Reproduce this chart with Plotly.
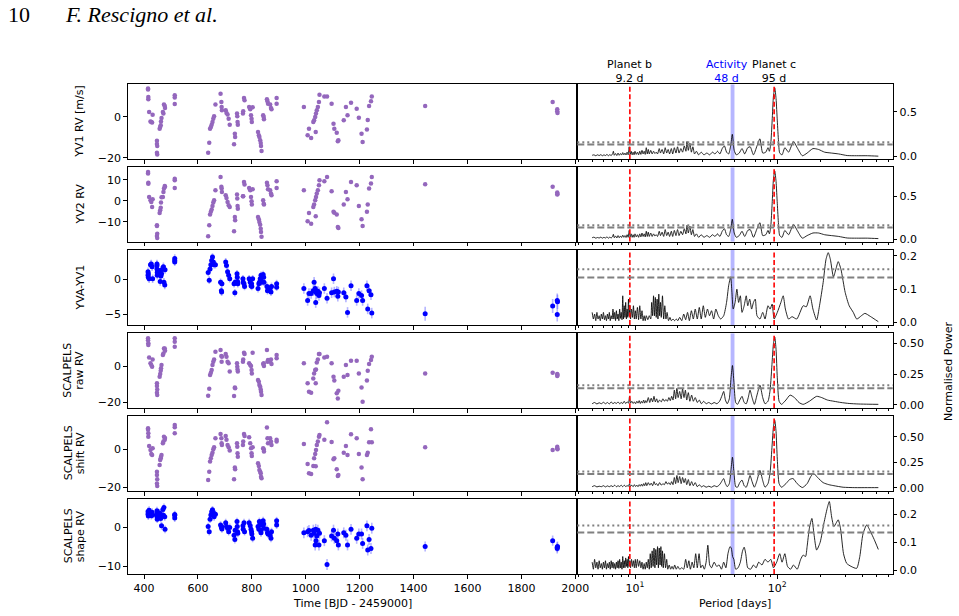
import math
import plotly.graph_objects as go

# ---------------- data ----------------
T = [415, 415, 416, 416, 419, 424, 427, 430, 432, 448, 448, 449, 448, 449, 458, 460, 462, 463, 465, 470, 472, 474, 477, 478, 514, 514, 514,
     638, 642, 645, 648, 651, 654, 657, 660, 665, 684, 687, 688, 689, 703, 706, 710, 714, 718, 734, 737, 738, 745, 746, 747, 748,
     767, 768, 771, 773, 790, 794, 797, 799, 800, 803, 823, 826, 828, 831, 833, 834, 836, 842, 844, 845, 856, 858, 860, 868, 871, 873, 892, 892,
     993, 1007, 1012, 1020, 1028, 1031, 1035, 1038, 1041, 1045, 1049, 1037, 1051, 1069, 1079, 1096, 1103, 1106, 1115, 1119, 1121,
     1141, 1149, 1155, 1168, 1189, 1197, 1207, 1211, 1227, 1230, 1235, 1242, 1245,
     1443, 1916, 1933, 1933, 1934]

Y_YV1 = [13.7, 13.3, 9.6, 8.5, 2.3, -2.3, -2.6, -2.9, 1.0, -11.7, -13.3, -14.3, -17.6, -18.5, -5.9, -5.0, -4.2, -2.3, -0.7, 2.3, 1.5, 5.9, 5.2, 4.2, 10.4, 9.3, 6.2,
         -17.6, -12.7, -5.9, -5.0, -3.9, -2.6, -1.0, 0.2, 5.9, 11.2, 7.2, 4.7, 3.1, 3.1, 1.8, 1.1, -1.0, -3.9, -13.5, -8.3, -9.9, 1.5, 0.2, -2.6, -3.9,
         1.5, 2.6, 9.1, 8.0, 4.7, 3.6, 0.7, -1.0, -2.6, 4.6, -7.5, -9.1, -9.9, -11.5, -12.8, -14.3, -16.7, 0.7, -0.2, -1.3, 8.5, 7.5, 6.3, 5.9, 4.2, 3.6, 9.1, 6.3,
         4.7, -9.1, -5.9, -10.4, -2.6, -1.8, -0.2, 1.5, 3.1, 4.7, 7.2, -7.5, 10.7, 9.8, 9.8, 6.3, -3.4, -5.9, -7.8, -12.0, -11.5,
         -1.8, 4.7, 0.7, 6.8, 3.9, -0.5, -8.3, -12.4, -6.2, -1.6, 5.2, 7.5, 9.9,
         5.2, 7.2, 3.6, 2.6, 1.8]

Y_YV2 = [13.8, 13.0, 8.6, 8.2, 1.9, 0.3, -0.5, -2.9, 0.8, -11.6, -11.9, -15.6, -16.7, -17.6, -5.7, -4.4, -3.3, -0.8, 1.7, 1.9, 4.3, 5.9, 7.1, 6.7, 10.6, 9.8, 6.2,
         -16.8, -11.6, -6.5, -5.2, -4.1, -2.4, -0.8, 0.3, 5.1, 11.4, 6.7, 5.9, 4.3, 2.7, 1.4, -0.5, -2.1, -2.9, -14.4, -7.6, -9.2, 3.0, 1.1, -2.4, -3.7,
         2.2, 2.2, 9.0, 7.8, 6.2, 5.1, 1.9, -0.2, -1.7, 5.6, -7.6, -8.7, -10.0, -11.3, -13.2, -14.8, -17.1, 0.3, -1.3, -1.7, 8.7, 7.5, 5.6, 5.1, 3.5, 2.7, 9.4, 6.2,
         5.1, -9.7, -5.7, -10.8, -2.9, -1.7, 0.3, 1.9, 3.5, 5.1, 7.5, -7.3, 9.8, 9.4, 11.4, 4.6, -5.2, -5.6, -6.5, -12.4, -12.9,
         -1.7, 4.3, 0.8, 9.0, 7.5, -2.4, -8.7, -11.9, -5.2, -1.7, 5.9, 8.3, 11.4,
         7.9, 6.7, 4.0, 3.0, 3.3]

Y_YVA = [1.1, 0.6, 0.8, 0.3, 0.1, 2.1, 2.2, 1.8, 0.1, 2.2, 1.5, 1.0, 2.0, 0.6, 0.7, -0.3, 1.3, 0.5, 0.8, 1.5, 1.8, -0.4, -0.8, 1.4, 3.0, 2.5, 2.7,
         1.0, -0.1, 1.5, 2.1, 2.7, 3.2, 2.5, 2.1, 2.1, -0.4, -1.6, -1.8, -0.6, 2.5, 2.0, 1.1, 0.6, 0.1, -0.6, -1.9, -0.4, 0.8, 0.3, -0.3, -0.6,
         0.1, -0.4, -0.6, -1.0, 0.1, -0.4, -0.9, -0.6, -1.0, 0.1, -1.3, -0.6, -0.4, 0.1, -0.1, 0.6, -0.4, 0.7, 0.3, -0.4, -1.0, -1.6, -1.2, -1.3, -1.8, -1.0, -0.6, -1.1,
         -1.3, -3.0, -2.0, -2.0, -1.6, -0.4, -1.3, -1.8, -2.0, -1.7, -2.3, -3.3, -1.9, -1.3, -2.7, -1.9, 0.1, -1.8, -1.7, -2.4, -1.8,
         -1.9, -2.5, -4.7, -0.9, -3.0, -2.0, -2.3, -3.0, -0.9, -4.2, -1.6, -2.2, -4.8,
         -4.9, -3.8, -3.0, -5.0, -3.2]
E_YVA = [0.6] * 27 + [0.55] * 53 + [0.75] * 34 + [1.0] * 5

Y_RAW = [15.4, 14.4, 12.6, 11.7, 4.8, 1.5, 0.6, -0.4, 3.7, -9.6, -11.1, -13.0, -14.8, -16.1, -5.9, -4.4, -2.6, -1.3, 0.6, 6.1, 7.0, 9.8, 9.8, 8.5, 15.4, 13.5, 10.7,
         -16.5, -12.6, -5.0, -3.7, -2.2, 0.6, 2.4, 3.7, 8.0, 8.9, 5.6, 2.4, 5.2, 6.7, 5.2, 2.4, 1.5, -3.1, -16.7, -11.9, -12.4, 1.5, -0.4, -1.9, -3.1,
         2.4, 3.7, 7.4, 6.7, 1.5, 0.6, 0.0, -2.2, -4.1, 7.4, -7.8, -8.7, -10.6, -11.5, -13.0, -14.3, -16.1, 1.1, 1.5, 0.0, 8.9, 2.4, 3.3, 2.4, 3.7, 1.1, 6.1, 4.3,
         1.5, -9.6, -14.3, -14.8, -6.9, -4.1, -2.2, -1.9, 1.9, 3.7, 6.7, -9.6, 6.7, 4.8, 5.2, 1.5, -5.9, -8.1, -15.2, -18.0, -13.7,
         -5.9, 0.6, -5.0, 3.0, 3.0, -4.1, -11.9, -19.8, -8.1, -2.6, 1.1, 3.3, 5.2,
         -4.1, -3.7, -4.4, -5.6, -5.0]

Y_SHIFT = [11.2, 10.3, 8.5, 6.7, 1.8, -0.4, -2.5, -3.0, 0.5, -11.9, -13.6, -15.9, -18.1, -19.5, -8.3, -5.7, -4.8, -3.9, -3.0, 3.2, 4.1, 6.7, 5.0, 6.0, 12.9, 11.7, 8.5,
           -16.3, -11.9, -6.5, -4.8, -3.0, -1.8, 0.0, 1.1, 5.8, 8.1, 5.8, 3.2, 2.3, 7.1, 5.0, 2.3, 1.1, -0.7, -15.9, -9.6, -10.6, 3.2, 1.4, -2.1, -3.9,
           2.3, 4.1, 8.1, 7.1, 6.4, 3.2, 0.5, -2.1, -3.5, 1.1, -7.4, -8.8, -11.0, -11.9, -12.7, -14.5, -15.4, 0.5, 0.0, -1.2, 11.5, 5.8, 3.2, 5.8, 4.1, 2.3, 5.0, 4.1,
           2.8, -7.8, -12.7, -13.1, -8.8, -4.8, -2.5, -0.4, 2.3, 4.1, 6.7, -9.0, 7.6, 5.0, 14.3, 3.9, -5.3, -4.8, -10.6, -14.2, -13.6,
           -1.8, 1.8, -3.0, 8.0, 5.8, -2.5, -9.6, -15.9, -3.0, -1.8, 3.7, 10.6, 3.7,
           1.1, -0.4, 0.5, 1.4, 0.0]

Y_SHAPE = [4.0, 3.3, 2.8, 3.6, 4.3, 3.5, 2.9, 3.8, 3.1, 4.2, 3.0, 2.5, 3.4, 2.0, 3.6, 2.9, 2.2, 3.2, 0.3, 4.5, 3.0, 5.0, 2.6, -0.6, 3.2, 2.3, 3.0,
           0.1, -1.2, 2.0, 3.1, 3.9, 4.4, 3.7, 2.6, 3.3, 0.5, -0.1, 0.1, -0.5, 1.1, 0.1, -0.3, -1.2, -0.1, -2.1, -3.2, -0.8, 1.4, 0.1, -1.2, -1.6,
           0.3, -0.6, 1.1, -1.2, 1.1, 0.3, -0.6, -1.2, -1.8, -2.9, 0.1, -0.6, 1.4, 0.9, -0.8, -1.5, 0.5, 1.6, 0.8, -0.3, -0.6, -1.5, -1.8, -2.1, -2.9, -1.2, 1.6, 0.5,
           -1.5, -1.2, -0.9, -2.1, -0.8, -1.6, -4.6, -3.5, -2.3, -0.8, -4.6, -0.6, -1.6, -3.5, -9.6, -2.3, -0.8, -2.9, -3.5, -1.8, -4.6,
           -1.5, -2.1, -4.6, -0.6, -2.9, -1.8, -1.8, -4.2, 0.3, -5.9, -3.2, -5.5, -0.3,
           -5.0, -3.5, -5.2, -5.5, -5.0]
E_SHAPE = [1.0] * 27 + [1.0] * 53 + [1.4] * 34 + [1.3] * 5

# periodograms: (period [d], normalised power)
PG_YV1 = [(5.0, .015), (5.15, .02), (5.3, .01), (5.45, .02), (5.6, .012), (5.75, .022), (5.9, .01), (6.05, .02), (6.2, .012), (6.35, .025), (6.5, .01), (6.65, .022), (6.8, .012), (6.95, .03), (7.05, .06), (7.15, .015), (7.3, .035), (7.45, .012), (7.6, .04), (7.75, .015), (7.9, .035), (8.05, .018), (8.2, .045), (8.35, .02), (8.5, .04), (8.65, .018), (8.8, .05), (8.95, .02), (9.1, .11), (9.25, .025), (9.4, .06), (9.55, .02), (9.7, .05), (9.85, .02), (10.0, .06), (10.2, .025), (10.4, .05), (10.6, .02), (10.8, .06), (11.0, .025), (11.2, .07), (11.4, .03), (11.6, .06), (11.8, .025), (12.0, .10), (12.2, .03), (12.4, .08), (12.6, .03), (12.9, .07), (13.2, .03), (13.5, .06), (13.8, .035), (14.1, .05), (14.4, .03), (14.8, .09), (15.1, .04), (15.5, .08), (15.9, .03), (16.3, .10), (16.7, .04), (17.1, .08), (17.5, .03), (18.0, .09), (18.4, .03), (18.9, .10), (19.4, .04), (19.9, .11), (20.4, .04), (21.0, .09), (21.6, .05), (22.2, .12), (22.8, .06), (23.2, .17), (23.7, .07), (24.3, .15), (24.9, .05), (25.5, .11), (26.2, .03), (27.0, .06), (28.0, .02), (29.2, .05), (30.5, .02), (32.0, .04), (33.5, .02), (35.0, .05), (36.5, .03), (38.0, .06), (39.5, .03), (41.0, .09), (42.5, .12), (44.0, .05), (45.5, .03), (47.0, .12), (48.3, .25), (49.8, .07), (51.5, .02), (54.0, .04), (56.5, .09), (59.0, .03), (62.0, .10), (64.5, .11), (68.0, .02), (72.0, .12), (75.5, .20), (79.0, .04), (83.0, .05), (86.0, .10), (88.0, .06), (90.0, .15), (92.0, .40), (94.0, .68), (96.0, .77), (98.0, .65), (100.0, .40), (102.0, .17), (104.0, .04), (108.0, .02), (113.0, .10), (120.0, .05), (130.0, .17), (138.0, .10), (150.0, .01), (162.0, .04), (178.0, .09), (195.0, .08), (215.0, .05), (240.0, .04), (270.0, .03), (310.0, .012), (360.0, .01), (430.0, .01), (513.0, .005)]

PG_YV2 = [(5.0, .015), (5.15, .022), (5.3, .01), (5.45, .018), (5.6, .012), (5.75, .022), (5.9, .01), (6.05, .02), (6.2, .012), (6.35, .025), (6.5, .01), (6.65, .022), (6.8, .012), (6.95, .03), (7.05, .055), (7.15, .015), (7.3, .035), (7.45, .012), (7.6, .04), (7.75, .015), (7.9, .035), (8.05, .018), (8.2, .045), (8.35, .02), (8.5, .04), (8.65, .018), (8.8, .05), (8.95, .02), (9.1, .10), (9.25, .025), (9.4, .06), (9.55, .02), (9.7, .05), (9.85, .02), (10.0, .06), (10.2, .025), (10.4, .05), (10.6, .02), (10.8, .06), (11.0, .025), (11.2, .07), (11.4, .03), (11.6, .06), (11.8, .025), (12.0, .09), (12.2, .03), (12.4, .08), (12.6, .03), (12.9, .07), (13.2, .03), (13.5, .06), (13.8, .035), (14.1, .05), (14.4, .03), (14.8, .09), (15.1, .04), (15.5, .08), (15.9, .03), (16.3, .11), (16.7, .04), (17.1, .08), (17.5, .03), (18.0, .09), (18.4, .03), (18.9, .10), (19.4, .04), (19.9, .11), (20.4, .04), (21.0, .09), (21.6, .05), (22.2, .12), (22.8, .06), (23.2, .16), (23.7, .07), (24.3, .15), (24.9, .05), (25.5, .11), (26.2, .03), (27.0, .06), (28.0, .02), (29.2, .05), (30.5, .02), (32.0, .04), (33.5, .02), (35.0, .05), (36.5, .03), (38.0, .06), (39.5, .03), (41.0, .09), (42.5, .12), (44.0, .05), (45.5, .03), (47.0, .11), (48.3, .23), (49.8, .07), (51.5, .02), (54.0, .04), (56.5, .09), (59.0, .03), (62.0, .10), (64.5, .11), (68.0, .02), (72.0, .12), (75.5, .19), (79.0, .04), (83.0, .05), (86.0, .10), (88.0, .06), (90.0, .15), (92.0, .41), (94.0, .70), (96.0, .79), (98.0, .67), (100.0, .41), (102.0, .17), (104.0, .04), (108.0, .02), (113.0, .10), (120.0, .05), (130.0, .17), (138.0, .10), (150.0, .01), (162.0, .04), (178.0, .07), (195.0, .07), (215.0, .05), (240.0, .04), (270.0, .03), (310.0, .012), (360.0, .01), (430.0, .01), (513.0, .005)]

PG_YVA = [(5.0, .03), (5.1, .01), (5.2, .025), (5.3, .005), (5.4, .03), (5.5, .01), (5.6, .02), (5.7, .005), (5.8, .025), (5.9, .01), (6.0, .03), (6.1, .008), (6.2, .02), (6.3, .005), (6.4, .025), (6.5, .01), (6.6, .03), (6.7, .005), (6.8, .02), (6.9, .01), (7.0, .04), (7.1, .01), (7.2, .03), (7.3, .005), (7.4, .035), (7.5, .01), (7.6, .025), (7.7, .005), (7.8, .04), (7.9, .012), (8.0, .03), (8.1, .008), (8.2, .08), (8.3, .01), (8.4, .05), (8.5, .015), (8.6, .06), (8.7, .01), (8.8, .04), (8.9, .015), (9.0, .07), (9.1, .02), (9.2, .05), (9.3, .01), (9.45, .04), (9.6, .015), (9.75, .05), (9.9, .01), (10.05, .035), (10.2, .01), (10.4, .045), (10.6, .008), (10.8, .05), (11.0, .01), (11.2, .035), (11.4, .005), (11.6, .02), (11.8, .005), (12.0, .02), (12.3, .008), (12.6, .02), (12.9, .01), (13.1, .06), (13.3, .02), (13.5, .08), (13.7, .02), (13.9, .075), (14.1, .015), (14.3, .07), (14.5, .01), (14.7, .085), (14.9, .02), (15.1, .06), (15.3, .015), (15.6, .08), (15.9, .01), (16.2, .05), (16.5, .01), (16.8, .03), (17.2, .005), (17.6, .015), (18.0, .005), (18.5, .01), (19.0, .005), (19.5, .01), (20.0, .005), (20.6, .015), (21.3, .005), (22.0, .025), (22.7, .008), (23.4, .03), (24.1, .005), (24.9, .035), (25.7, .01), (26.5, .04), (27.4, .01), (28.3, .045), (29.2, .01), (30.2, .05), (31.2, .015), (32.3, .04), (33.4, .02), (34.5, .035), (35.7, .01), (37.0, .04), (38.5, .02), (40.0, .01), (42.0, .02), (44.0, .06), (45.5, .11), (47.0, .137), (48.0, .09), (49.0, .04), (50.5, .06), (52.0, .10), (53.5, .06), (55.0, .08), (56.5, .03), (58.5, .05), (60.5, .08), (62.0, .05), (64.0, .07), (66.0, .04), (68.0, .06), (70.0, .07), (72.0, .02), (75.5, .01), (79.0, .03), (82.0, .01), (86.0, .05), (89.0, .04), (92.0, .055), (95.0, .01), (100.0, .03), (106.0, .06), (110.0, .08), (114.0, .04), (120.0, .01), (127.0, .017), (137.0, .01), (152.0, .05), (160.0, .047), (170.0, .08), (178.0, .04), (189.0, .007), (198.0, .05), (210.0, .12), (220.0, .19), (228.0, .21), (236.0, .19), (248.0, .137), (258.0, .16), (268.0, .183), (280.0, .16), (300.0, .09), (320.0, .05), (342.0, .03), (362.0, .01), (390.0, .02), (413.0, .027), (450.0, .018), (513.0, .002)]

PG_RAW = [(5.0, .01), (5.2, .02), (5.4, .008), (5.6, .018), (5.8, .01), (6.0, .022), (6.2, .01), (6.4, .02), (6.6, .008), (6.8, .025), (7.0, .01), (7.2, .02), (7.4, .012), (7.6, .025), (7.8, .01), (8.0, .02), (8.2, .012), (8.4, .03), (8.6, .012), (8.8, .025), (9.0, .015), (9.15, .07), (9.3, .015), (9.5, .03), (9.7, .012), (9.9, .025), (10.1, .01), (10.3, .03), (10.5, .015), (10.7, .035), (10.9, .012), (11.1, .03), (11.3, .015), (11.5, .04), (11.7, .015), (11.9, .035), (12.1, .02), (12.4, .06), (12.7, .02), (13.0, .055), (13.3, .025), (13.6, .07), (13.9, .025), (14.2, .05), (14.5, .02), (14.9, .04), (15.3, .025), (15.7, .05), (16.1, .03), (16.5, .045), (16.9, .03), (17.3, .06), (17.7, .035), (18.1, .07), (18.5, .04), (18.9, .12), (19.3, .05), (19.7, .135), (20.1, .06), (20.6, .11), (21.1, .05), (21.6, .13), (22.1, .06), (22.6, .12), (23.1, .04), (23.7, .10), (24.3, .03), (25.0, .08), (25.7, .03), (26.5, .06), (27.4, .02), (28.3, .04), (29.3, .01), (30.4, .03), (31.6, .01), (33.0, .02), (34.5, .008), (36.0, .02), (37.6, .01), (39.3, .03), (41.0, .08), (42.0, .11), (43.2, .04), (44.5, .01), (46.0, .05), (47.3, .22), (48.4, .32), (49.6, .18), (51.0, .02), (52.5, .005), (54.5, .04), (56.5, .07), (58.5, .02), (60.5, .01), (62.5, .06), (64.3, .12), (66.5, .06), (69.0, .005), (72.0, .08), (75.5, .16), (79.0, .06), (82.0, .01), (86.0, .03), (89.0, .12), (92.0, .35), (94.0, .50), (96.0, .55), (98.0, .45), (100.0, .22), (103.0, .03), (107.0, .005), (115.0, .04), (123.0, .08), (132.0, .06), (142.0, .02), (152.0, .005), (168.0, .03), (189.0, .07), (205.0, .06), (225.0, .04), (250.0, .03), (280.0, .02), (320.0, .012), (370.0, .008), (440.0, .006), (513.0, .005)]

PG_SHIFT = [(5.0, .01), (5.2, .02), (5.4, .008), (5.6, .015), (5.8, .01), (6.0, .02), (6.2, .008), (6.4, .018), (6.6, .01), (6.8, .02), (7.0, .01), (7.2, .025), (7.4, .01), (7.6, .02), (7.8, .012), (8.0, .025), (8.2, .01), (8.4, .025), (8.6, .012), (8.8, .02), (9.0, .015), (9.15, .04), (9.3, .012), (9.5, .025), (9.7, .01), (9.9, .03), (10.1, .012), (10.3, .025), (10.5, .01), (10.7, .03), (10.9, .015), (11.1, .035), (11.3, .015), (11.5, .04), (11.7, .02), (11.9, .05), (12.1, .02), (12.4, .05), (12.7, .025), (13.0, .045), (13.3, .02), (13.6, .06), (13.9, .03), (14.2, .04), (14.5, .02), (14.9, .05), (15.3, .025), (15.7, .04), (16.1, .03), (16.5, .06), (16.9, .035), (17.3, .05), (17.7, .03), (18.1, .06), (18.5, .03), (18.9, .10), (19.3, .04), (19.7, .12), (20.1, .05), (20.6, .11), (21.1, .04), (21.6, .10), (22.1, .05), (22.6, .09), (23.1, .03), (23.7, .08), (24.3, .02), (25.0, .06), (25.7, .02), (26.5, .05), (27.4, .01), (28.3, .03), (29.3, .008), (30.4, .02), (31.6, .005), (33.0, .015), (34.5, .005), (36.0, .02), (37.6, .01), (39.3, .03), (41.0, .07), (42.0, .09), (43.2, .04), (44.5, .01), (46.0, .04), (47.3, .18), (48.4, .30), (49.6, .15), (51.0, .01), (52.5, .005), (54.5, .05), (56.5, .075), (58.5, .02), (60.5, .005), (62.5, .06), (64.3, .12), (66.5, .06), (69.0, .005), (72.0, .07), (75.5, .17), (79.0, .07), (82.0, .005), (86.0, .04), (89.0, .15), (92.0, .42), (94.0, .60), (96.0, .66), (98.0, .55), (100.0, .28), (103.0, .04), (107.0, .005), (115.0, .04), (122.0, .08), (129.0, .09), (138.0, .04), (150.0, .002), (162.0, .04), (172.0, .11), (180.0, .14), (192.0, .10), (210.0, .05), (230.0, .03), (250.0, .02), (290.0, .005), (350.0, .001), (430.0, .001), (513.0, .001)]

PG_SHAPE = [(5.0, .03), (5.1, .005), (5.2, .04), (5.3, .01), (5.4, .03), (5.5, .005), (5.6, .035), (5.7, .01), (5.8, .025), (5.9, .005), (6.0, .03), (6.1, .01), (6.2, .035), (6.3, .005), (6.4, .025), (6.5, .01), (6.6, .03), (6.7, .005), (6.8, .035), (6.9, .01), (7.0, .03), (7.1, .008), (7.2, .025), (7.3, .005), (7.4, .03), (7.5, .01), (7.6, .035), (7.7, .008), (7.8, .04), (7.9, .01), (8.0, .03), (8.1, .005), (8.2, .05), (8.3, .01), (8.4, .035), (8.5, .01), (8.6, .045), (8.7, .015), (8.8, .04), (8.9, .01), (9.0, .05), (9.1, .015), (9.2, .035), (9.3, .01), (9.45, .04), (9.6, .015), (9.75, .035), (9.9, .01), (10.05, .04), (10.2, .01), (10.4, .04), (10.6, .015), (10.8, .035), (11.0, .01), (11.2, .03), (11.4, .005), (11.6, .025), (11.8, .005), (12.0, .03), (12.2, .01), (12.4, .04), (12.6, .005), (12.8, .06), (13.0, .01), (13.2, .07), (13.4, .015), (13.6, .08), (13.8, .01), (14.0, .075), (14.2, .02), (14.4, .085), (14.6, .01), (14.8, .08), (15.0, .02), (15.2, .085), (15.4, .015), (15.6, .07), (15.8, .01), (16.1, .06), (16.4, .01), (16.7, .04), (17.0, .005), (17.4, .02), (17.8, .005), (18.2, .015), (18.6, .005), (19.0, .02), (19.5, .005), (20.0, .015), (20.6, .005), (21.3, .01), (22.0, .005), (22.7, .04), (23.3, .01), (23.9, .035), (24.5, .005), (25.2, .03), (25.9, .01), (26.7, .06), (27.4, .01), (28.2, .06), (29.0, .01), (29.8, .02), (30.7, .005), (31.6, .03), (32.5, .09), (33.5, .02), (34.5, .01), (36.0, .03), (37.5, .015), (39.0, .02), (40.5, .005), (42.0, .03), (43.5, .01), (45.0, .06), (46.5, .085), (47.5, .08), (48.5, .05), (49.5, .04), (51.0, .005), (53.0, .01), (55.0, .03), (57.0, .07), (58.5, .083), (60.0, .06), (62.0, .01), (65.0, .005), (68.0, .02), (71.0, .01), (74.0, .03), (78.0, .02), (82.0, .04), (86.0, .03), (90.0, .04), (94.0, .01), (99.0, .03), (104.0, .06), (108.0, .03), (113.0, .06), (118.0, .015), (124.0, .005), (130.0, .02), (138.0, .005), (146.0, .04), (152.0, .055), (158.0, .05), (162.0, .085), (168.0, .15), (175.0, .185), (181.0, .13), (189.0, .073), (200.0, .10), (213.0, .17), (224.0, .22), (232.0, .245), (241.0, .19), (250.0, .156), (260.0, .17), (268.0, .18), (278.0, .15), (292.0, .06), (307.0, .026), (330.0, .015), (361.0, .008), (380.0, .05), (400.0, .13), (425.0, .162), (450.0, .14), (480.0, .11), (513.0, .075)]

FAP_DOTTED = 0.16
FAP_DASHED = 0.135
P_PLANET_B = 9.2
P_PLANET_C = 95
ACTIVITY_BAND = (47, 50)

ROW_LABELS = ["YV1 RV [m/s]", "YV2 RV", "YVA-YV1", "SCALPELS\nraw RV", "SCALPELS\nshift RV", "SCALPELS\nshape RV"]
ROW_SERIES = [Y_YV1, Y_YV2, Y_YVA, Y_RAW, Y_SHIFT, Y_SHAPE]
ROW_ERRORS = [None, None, E_YVA, None, None, E_SHAPE]
ROW_PG = [PG_YV1, PG_YV2, PG_YVA, PG_RAW, PG_SHIFT, PG_SHAPE]
LEFT_YRANGE = [(-20.8, 15.8), (-19.4, 16.0), (-6.5, 4.2), (-23.5, 18.2), (-22.1, 17.8), (-12.05, 7.26)]
LEFT_YTICKS = [[-20, 0], [-10, 0, 10], [-5, 0], [-20, 0], [-20, 0], [-10, 0]]
RIGHT_YRANGE = [(-0.03, 0.81), (-0.031, 0.834), (-0.008, 0.218), (-0.027, 0.581), (-0.032, 0.706), (-0.012, 0.255)]
RIGHT_YTICKS = [["0.0", "0.5"], ["0.0", "0.5"], ["0.0", "0.1", "0.2"], ["0.00", "0.25", "0.50"], ["0.00", "0.25", "0.50"], ["0.0", "0.1", "0.2"]]
TIME_TICKS = [400, 600, 800, 1000, 1200, 1400, 1600, 1800, 2000]
PERIOD_MINOR = [4, 5, 6, 7, 8, 9, 20, 30, 40, 50, 60, 70, 80, 90, 200, 300, 400, 500, 600]

for arr in ROW_SERIES:
    assert len(arr) == len(T)

# ---------------- layout geometry ----------------
W, H = 959, 616
LX0, MX, RX1 = 127.7, 577.3, 892.7
TOPS = [84.3, 167.3, 250.0, 333.3, 415.7, 498.7]
BOTS = [159.3, 241.7, 325.0, 408.3, 491.0, 574.0]
FONT = "DejaVu Sans"
PURPLE = "#9467bd"

fig = go.Figure()
layout = dict(width=W, height=H, autosize=False, margin=dict(l=0, r=0, t=0, b=0, pad=0, autoexpand=False),
              paper_bgcolor="white", plot_bgcolor="white", showlegend=False,
              font=dict(family=FONT, size=11, color="black"))
shapes, annotations = [], []


def minus(v):
    return str(v).replace("-", "\u2212")


common_axis = dict(showline=True, mirror=True, linecolor="black", linewidth=1, automargin=False,
                   ticks="outside", ticklen=3.5, tickwidth=0.8, tickcolor="black",
                   showgrid=False, zeroline=False, tickfont=dict(family=FONT, size=11, color="black"))

for i in range(6):
    li, ri = 2 * i + 1, 2 * i + 2
    xl = "x" if li == 1 else f"x{li}"
    yl = "y" if li == 1 else f"y{li}"
    xr, yr = f"x{ri}", f"y{ri}"
    ydom = [1 - BOTS[i] / H, 1 - TOPS[i] / H]
    last = (i == 5)

    layout["xaxis" if li == 1 else f"xaxis{li}"] = dict(
        common_axis, domain=[LX0 / W, MX / W], anchor=yl, range=[339.5, 2007.4],
        tickmode="array", tickvals=TIME_TICKS, ticktext=[str(v) for v in TIME_TICKS],
        showticklabels=last)
    layout[f"yaxis{li}" if li != 1 else "yaxis"] = dict(
        common_axis, domain=ydom, anchor=xl, range=list(LEFT_YRANGE[i]),
        tickmode="array", tickvals=LEFT_YTICKS[i], ticktext=[minus(v) for v in LEFT_YTICKS[i]])
    layout[f"xaxis{ri}"] = dict(
        common_axis, domain=[MX / W, RX1 / W], anchor=yr, type="log", range=[0.5945, 2.811],
        tickmode="array", tickvals=[10, 100], ticktext=["10<sup>1</sup>", "10<sup>2</sup>"],
        showticklabels=last,
        minor=dict(tickmode="array", tickvals=PERIOD_MINOR, ticks="outside", ticklen=2,
                   tickwidth=0.6, tickcolor="black"))
    rt = RIGHT_YTICKS[i]
    layout[f"yaxis{ri}"] = dict(
        common_axis, domain=ydom, anchor=xr, side="right", range=list(RIGHT_YRANGE[i]),
        tickmode="array", tickvals=[float(v) for v in rt], ticktext=rt)

    # left: time series
    series = ROW_SERIES[i]
    err = ROW_ERRORS[i]
    if err is None:
        fig.add_trace(go.Scatter(x=T, y=series, mode="markers", xaxis=xl, yaxis=yl,
                                 marker=dict(color=PURPLE, size=4.5, line=dict(width=0))))
    else:
        fig.add_trace(go.Scatter(x=T, y=series, mode="markers", xaxis=xl, yaxis=yl,
                                 marker=dict(color="blue", size=5, line=dict(width=0)),
                                 error_y=dict(type="data", array=err, visible=True,
                                              color="rgba(90,90,255,0.45)", thickness=1.6, width=0)))

    # right: periodogram
    per = [p for p, _ in ROW_PG[i]]
    pw = [w for _, w in ROW_PG[i]]
    ylo, yhi = RIGHT_YRANGE[i]
    fig.add_trace(go.Scatter(x=[ACTIVITY_BAND[0], ACTIVITY_BAND[1], ACTIVITY_BAND[1], ACTIVITY_BAND[0], ACTIVITY_BAND[0]],
                             y=[ylo, ylo, yhi, yhi, ylo], mode="lines", fill="toself",
                             fillcolor="rgba(110,110,255,0.5)", line=dict(width=0),
                             xaxis=xr, yaxis=yr, hoverinfo="skip"))
    fig.add_trace(go.Scatter(x=per, y=pw, mode="lines", xaxis=xr, yaxis=yr,
                             line=dict(color="black", width=0.85, shape="spline", smoothing=0.6)))
    for p in (P_PLANET_B, P_PLANET_C):
        fig.add_trace(go.Scatter(x=[p, p], y=[ylo, yhi], mode="lines", xaxis=xr, yaxis=yr,
                                 line=dict(color="red", width=1.6, dash="5px,2.5px"), hoverinfo="skip"))
    shapes.append(dict(type="line", xref=f"{xr} domain", yref=yr, x0=0, x1=1,
                       y0=FAP_DASHED, y1=FAP_DASHED, line=dict(color="gray", width=2, dash="7px,3px")))
    shapes.append(dict(type="line", xref=f"{xr} domain", yref=yr, x0=0, x1=1,
                       y0=FAP_DOTTED, y1=FAP_DOTTED, line=dict(color="gray", width=2, dash="2px,3px")))

    # row label
    parts = ROW_LABELS[i].split("\n")
    yc = 1 - (TOPS[i] + BOTS[i]) / 2 / H
    xs = [80] if len(parts) == 1 else [68, 80]
    for txt, xp in zip(parts, xs):
        annotations.append(dict(text=txt, x=xp / W, y=yc, xref="paper", yref="paper",
                                textangle=-90, showarrow=False, xanchor="center", yanchor="middle",
                                font=dict(family=FONT, size=11, color="black")))

# top labels over the first periodogram
top_labels = [("Planet b<br>9.2 d", math.log10(P_PLANET_B), "black"),
              ("Activity<br>48 d", 1.6465, "blue"),
              ("Planet c<br>95 d", math.log10(P_PLANET_C), "black")]
for txt, xv, col in top_labels:
    annotations.append(dict(text=txt, x=xv, xref="x2", y=1 - 71 / H, yref="paper", showarrow=False,
                            xanchor="center", yanchor="middle", font=dict(family=FONT, size=11, color=col)))

# axis titles
annotations.append(dict(text="Time [BJD - 2459000]", x=(LX0 + MX) / 2 / W, y=1 - 603 / H, xref="paper", yref="paper",
                        showarrow=False, xanchor="center", yanchor="middle", font=dict(family=FONT, size=11)))
annotations.append(dict(text="Period [days]", x=(MX + RX1) / 2 / W, y=1 - 603 / H, xref="paper", yref="paper",
                        showarrow=False, xanchor="center", yanchor="middle", font=dict(family=FONT, size=11)))
annotations.append(dict(text="Normalised Power", x=948 / W, y=1 - 371 / H, xref="paper", yref="paper",
                        textangle=-90, showarrow=False, xanchor="center", yanchor="middle", font=dict(family=FONT, size=11)))

# page header
annotations.append(dict(text="10", x=6 / W, y=1 - 14.5 / H, xref="paper", yref="paper", showarrow=False,
                        xanchor="left", yanchor="middle", font=dict(family="Liberation Serif", size=22, color="black")))
annotations.append(dict(text="<i>F. Rescigno et al.</i>", x=63 / W, y=1 - 14.5 / H, xref="paper", yref="paper",
                        showarrow=False, xanchor="left", yanchor="middle",
                        font=dict(family="Liberation Serif", size=22, color="black")))

layout["shapes"] = shapes
layout["annotations"] = annotations
fig.update_layout(**layout)
fig.write_html("out.html")
